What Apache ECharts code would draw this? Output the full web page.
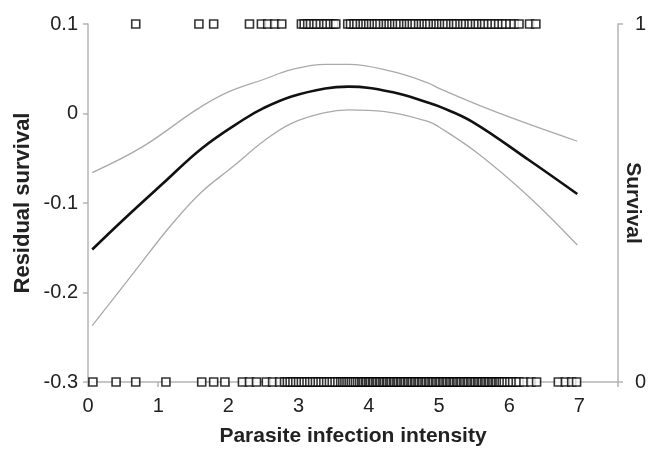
<!DOCTYPE html>
<html>
<head>
<meta charset="utf-8">
<title>Residual survival</title>
<script src="https://cdn.jsdelivr.net/npm/echarts@6/dist/echarts.min.js"></script>
<style>
	html, body { margin: 0; padding: 0; background: #fff; }
	#chart { width: 648px; height: 457px; }
</style>
</head>
<body>
<div id="chart"></div>
<script type="text/javascript">
	// fitted curve and confidence band (x, residual survival)
	var fitX = [0.06, 0.5, 1.07, 1.62, 2.21, 2.5, 2.9, 3.38, 3.71, 4.33, 4.85, 5.0, 5.47, 6.28, 6.97];
	var fitMid = [-0.152, -0.119, -0.078, -0.039, -0.007, 0.006, 0.019, 0.028, 0.030, 0.024, 0.012, 0.008, -0.009, -0.052, -0.090];
	var upX = [0.06, 0.78, 1.54, 1.97, 2.5, 2.9, 3.38, 3.71, 4.33, 4.85, 5.0, 5.8, 6.97];
	var upVal = [-0.066, -0.037, 0.004, 0.023, 0.038, 0.049, 0.055, 0.055, 0.047, 0.034, 0.028, 0.002, -0.031];
	var lowX = [0.06, 0.64, 1.17, 1.6, 2.07, 2.5, 2.9, 3.38, 3.71, 4.23, 4.85, 5.0, 5.56, 6.28, 6.97];
	var lowVal = [-0.237, -0.179, -0.126, -0.089, -0.059, -0.031, -0.011, 0.001, 0.004, 0.002, -0.009, -0.015, -0.045, -0.093, -0.147];

	// observed survivors (survival = 1) and non-survivors (survival = 0)
	var aliveX = [0.68, 1.58, 1.79, 2.30, 2.47, 2.56, 2.66, 2.76,
		3.04, 3.08, 3.13, 3.17, 3.22, 3.26, 3.31, 3.36, 3.40, 3.45, 3.50, 3.53,
		3.70, 3.74, 3.79, 3.83, 3.88, 3.92, 3.96, 4.00, 4.04, 4.08, 4.12, 4.16, 4.21, 4.25, 4.29,
		4.33, 4.37, 4.41, 4.45, 4.50, 4.54, 4.58, 4.62, 4.66, 4.71, 4.75, 4.79, 4.83, 4.87, 4.92,
		4.96, 5.00, 5.04, 5.08, 5.12, 5.17, 5.21, 5.25, 5.30, 5.34, 5.38, 5.43, 5.47, 5.52, 5.56,
		5.61, 5.65, 5.70, 5.75, 5.80, 5.85, 5.90, 5.95, 6.01, 6.07, 6.14,
		6.29, 6.38];
	var deadX = [0.07, 0.40, 0.68, 1.11, 1.62, 1.79, 1.95, 2.20, 2.30, 2.40, 2.54, 2.63, 2.73,
		2.80, 2.84, 2.88, 2.92, 2.96, 3.00, 3.04, 3.08, 3.12, 3.16, 3.20, 3.24, 3.28, 3.32, 3.36,
		3.40, 3.44, 3.48, 3.52, 3.56, 3.60, 3.63, 3.66, 3.69, 3.72, 3.75, 3.78, 3.81, 3.84, 3.87,
		3.90, 3.92, 3.95, 3.97, 4.00, 4.02, 4.05, 4.07, 4.10, 4.12, 4.15, 4.17, 4.20, 4.22, 4.25,
		4.27, 4.30, 4.32, 4.35, 4.37, 4.40, 4.42, 4.45, 4.47, 4.50, 4.52, 4.55, 4.57, 4.60, 4.62,
		4.65, 4.67, 4.70, 4.72, 4.75, 4.77, 4.80, 4.82, 4.85, 4.87, 4.90, 4.92, 4.95, 4.97, 5.00,
		5.02, 5.05, 5.07, 5.10, 5.12, 5.15, 5.17, 5.20, 5.22, 5.25, 5.27, 5.30, 5.32, 5.35, 5.37,
		5.40, 5.42, 5.45, 5.47, 5.50, 5.52, 5.55, 5.57, 5.60, 5.62, 5.65, 5.67, 5.70, 5.72, 5.75,
		5.77, 5.80, 5.82, 5.85, 5.87, 5.90, 5.93, 5.97, 6.01, 6.05, 6.10, 6.14,
		6.21, 6.31, 6.39, 6.70, 6.80, 6.89, 6.96];

	var yTicks = ['-0.3', '-0.2', '-0.1', '0', '0.1'];

	function pairs(xs, ys) {
		var out = [];
		for (var i = 0; i < xs.length; i++) {
			out.push([xs[i], ys[i]]);
		}
		return out;
	}
	function flat(xs, v) {
		var out = [];
		for (var i = 0; i < xs.length; i++) {
			out.push([xs[i], v]);
		}
		return out;
	}

	var axisGray = '#b4b4b4';
	var txt = '#222';
	var font = 'Liberation Sans, Arial, sans-serif';

	var myChart = echarts.init(document.getElementById('chart'));
	var option = {
		backgroundColor: '#fff',
		animation: false,
		grid: { left: 88, right: 30, top: 24, bottom: 75, outerBoundsMode: 'none' },
		xAxis: {
			type: 'value',
			min: 0,
			max: 7.55,
			interval: 1,
			name: 'Parasite infection intensity',
			nameLocation: 'middle',
			nameGap: 44,
			nameMoveOverlap: false,
			nameTextStyle: { color: txt, fontSize: 21, fontWeight: 'bold', fontFamily: font },
			axisLine: { show: true, onZero: false, lineStyle: { color: axisGray, width: 1.5 } },
			axisTick: { show: true, length: 5, lineStyle: { color: axisGray, width: 1.5 } },
			axisLabel: {
				color: txt, fontSize: 20, fontFamily: font, margin: 14,
				formatter: function(v) { return v % 1 === 0 ? String(v) : ''; }
			},
			splitLine: { show: false }
		},
		yAxis: [{
			type: 'value',
			min: -0.3,
			max: 0.1,
			interval: 0.1,
			name: 'Residual survival',
			nameLocation: 'middle',
			nameGap: 54,
			nameMoveOverlap: false,
			nameTextStyle: { color: txt, fontSize: 22, fontWeight: 'bold', fontFamily: font },
			axisLine: { show: true, onZero: false, lineStyle: { color: axisGray, width: 1.5 } },
			axisTick: { show: true, length: 5, lineStyle: { color: axisGray, width: 1.5 } },
			axisLabel: {
				color: txt, fontSize: 20, fontFamily: font, margin: 10,
				formatter: function(v) { return yTicks[Math.round((v + 0.3) * 10)]; }
			},
			splitLine: { show: false }
		}, {
			type: 'value',
			position: 'right',
			min: 0,
			max: 1,
			interval: 1,
			name: 'Survival',
			nameLocation: 'middle',
			nameRotate: -90,
			nameGap: 4,
			nameMoveOverlap: false,
			nameTextStyle: { color: txt, fontSize: 21, fontWeight: 'bold', fontFamily: font },
			axisLine: { show: true, onZero: false, lineStyle: { color: axisGray, width: 1.5 } },
			axisTick: { show: true, length: 5, lineStyle: { color: axisGray, width: 1.5 } },
			axisLabel: { color: txt, fontSize: 20, fontFamily: font, margin: 17 },
			splitLine: { show: false }
		}],
		series: [{
			name: 'upper',
			type: 'line',
			data: pairs(upX, upVal),
			smooth: 0.4,
			symbol: 'none',
			lineStyle: { color: '#aaaaaa', width: 1.3 },
			z: 2
		}, {
			name: 'lower',
			type: 'line',
			data: pairs(lowX, lowVal),
			smooth: 0.4,
			symbol: 'none',
			lineStyle: { color: '#aaaaaa', width: 1.3 },
			z: 2
		}, {
			name: 'fit',
			type: 'line',
			data: pairs(fitX, fitMid),
			smooth: 0.4,
			symbol: 'none',
			lineStyle: { color: '#111', width: 2.6 },
			z: 3
		}, {
			name: 'alive',
			type: 'scatter',
			yAxisIndex: 1,
			data: flat(aliveX, 1),
			symbol: 'rect',
			symbolSize: 8,
			clip: false,
			itemStyle: { color: '#fff', borderColor: '#000', borderWidth: 1.6 },
			z: 4
		}, {
			name: 'dead',
			type: 'scatter',
			yAxisIndex: 1,
			data: flat(deadX, 0),
			symbol: 'rect',
			symbolSize: 8,
			clip: false,
			itemStyle: { color: '#fff', borderColor: '#000', borderWidth: 1.6 },
			z: 4
		}]
	};
	myChart.setOption(option);
</script>
</body>
</html>
